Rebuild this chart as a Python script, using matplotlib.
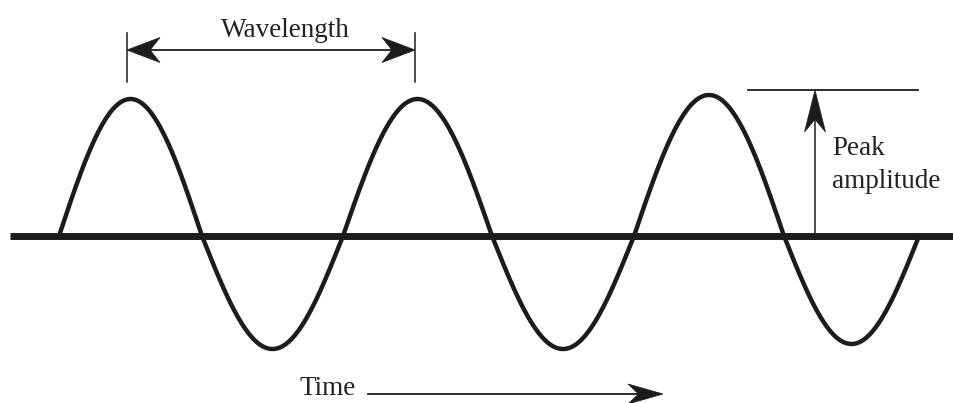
import numpy as np
import matplotlib
matplotlib.use("Agg")
import matplotlib.pyplot as plt
from matplotlib.patches import Polygon

# ---- data (pixel-like units; y=0 is the time axis) ----
zero_crossings = [59, 202, 343, 492, 634, 784, 919]
half_extremes = [137, -113, 137, -113, 141, -108]
axis_x = [10, 954]
wavelength_x = [127, 415]
wavelength_y = 186
wavelength_tick_y = [154, 203]
peak_x = 815
peak_top = 146
peak_line_x = [748, 918]
time_arrow_x = [368, 663]
time_arrow_y = -158

labels = {"wavelength": "Wavelength", "peak": "Peak\namplitude", "time": "Time"}

FONT = ["Liberation Serif", "DejaVu Serif"]
INK = "#1c1c1c"

fig = plt.figure(figsize=(9.54, 4.03), dpi=100)
ax = fig.add_axes([0, 0, 1, 1])
ax.set_xlim(0, 954)
ax.set_ylim(-167, 236)
ax.axis("off")


def arrow_head(ax, tip, direction, length, width, notch=0.3):
    d = np.array(direction, float)
    d /= np.linalg.norm(d)
    n = np.array([-d[1], d[0]])
    tip = np.array(tip, float)
    back = tip - d * length
    p1 = back + n * width / 2
    p2 = back - n * width / 2
    mid = tip - d * length * (1 - notch)
    ax.add_patch(Polygon([tip, p1, mid, p2], closed=True, facecolor=INK,
                         edgecolor=INK, lw=0.5, zorder=5))
    return mid


# time axis line
ax.plot(axis_x, [0, 0], color=INK, lw=5.0, solid_capstyle="butt", zorder=2)

# wave: one sine half-cycle between each pair of zero crossings
xs, ys = [], []
for x0, x1, e in zip(zero_crossings[:-1], zero_crossings[1:], half_extremes):
    t = np.linspace(0, 1, 80)
    xs.append(x0 + (x1 - x0) * t)
    ys.append(e * np.sin(np.pi * t))
ax.plot(np.concatenate(xs), np.concatenate(ys), color=INK, lw=3.2,
        solid_capstyle="round", solid_joinstyle="round", zorder=3)

# wavelength marker
for x in wavelength_x:
    ax.plot([x, x], wavelength_tick_y, color=INK, lw=1.1)
m1 = arrow_head(ax, (wavelength_x[0], wavelength_y), (-1, 0), 33, 25)
m2 = arrow_head(ax, (wavelength_x[1], wavelength_y), (1, 0), 33, 25)
ax.plot([m1[0], m2[0]], [wavelength_y, wavelength_y], color=INK, lw=1.3)
ax.text(np.mean(wavelength_x) + 14, 199, labels["wavelength"], ha="center",
        va="baseline", fontsize=19.5, family=FONT, color="#222222")

# peak amplitude marker
ax.plot(peak_line_x, [peak_top, peak_top], color=INK, lw=1.3)
m3 = arrow_head(ax, (peak_x, peak_top), (0, 1), 42, 21)
ax.plot([peak_x, peak_x], [0, m3[1]], color=INK, lw=1.1)
ax.text(832, 81, "Peak", ha="left", va="baseline", fontsize=19.5,
        family=FONT, color="#222222")
ax.text(832, 48, "amplitude", ha="left", va="baseline", fontsize=19.5,
        family=FONT, color="#222222")

# time arrow
m4 = arrow_head(ax, (time_arrow_x[1], time_arrow_y), (1, 0), 35, 20)
ax.plot([time_arrow_x[0], m4[0]], [time_arrow_y, time_arrow_y], color=INK, lw=1.3)
ax.text(300, -159, labels["time"], ha="left", va="baseline", fontsize=19.5,
        family=FONT, color="#222222")

fig.savefig("out.png", dpi=100, facecolor="white")
